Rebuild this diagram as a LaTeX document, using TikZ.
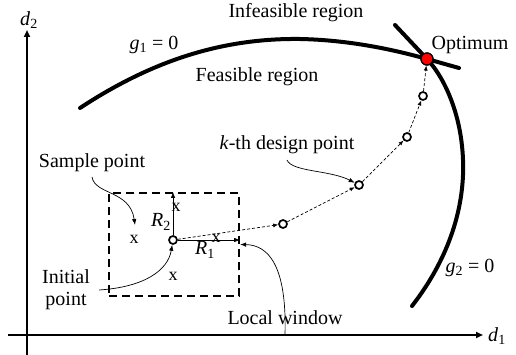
\documentclass[tikz,border=0pt]{standalone}
\usepackage{fontspec}
\setmainfont{Liberation Serif}
\usetikzlibrary{arrows.meta}

\newcommand{\symsub}[2]{\textit{#1}\textsubscript{#2}}

\begin{document}
\begin{tikzpicture}[
    x=1pt, y=-1pt,
    lbl/.style={font=\fontsize{20}{22}\selectfont, inner sep=0pt, align=center},
    smark/.style={font=\fontsize{18}{20}\selectfont, inner sep=1pt},
    axis/.style={line width=2.3pt, -{Triangle[length=7pt,width=6pt]}},
    bound/.style={line width=4pt, line cap=round},
    window/.style={draw, line width=2.2pt, dash pattern=on 8pt off 5pt, minimum width=130pt, minimum height=103pt, inner sep=0pt},
    dpoint/.style={circle, draw, line width=1.7pt, fill=white, minimum size=8pt, inner sep=0pt},
    optpt/.style={circle, draw, line width=1.2pt, fill=red, minimum size=12pt, inner sep=0pt},
    walk/.style={dash pattern=on 3pt off 2pt, line width=0.7pt, -{Latex[length=5pt,width=4pt]}},
    note/.style={line width=0.7pt, -{Latex[length=6pt,width=4.5pt]}},
    rad/.style={line width=0.8pt, -{Latex[length=6pt,width=4.5pt]}}
]
\useasboundingbox (0,0) rectangle (516,355);

% axes
\coordinate (ybot) at (27,355);
\coordinate (ytop) at (27,30);
\coordinate (xleft) at (8,335);
\coordinate (xright) at (483,335);
\draw[axis] (ybot) -- (ytop);
\draw[axis] (xleft) -- (xright);
\node[lbl] (d2) at (29,20) {\symsub{d}{2}};
\node[lbl] (d1) at (497,336) {\symsub{d}{1}};

% optimum and design points
\node[optpt] (opt) at (427,59) {};
\node[dpoint] (c0) at (173,240) {};
\node[dpoint] (c1) at (283,224) {};
\node[dpoint] (c2) at (359,185) {};
\node[dpoint] (c3) at (407,137) {};
\node[dpoint] (c4) at (423,96) {};

% constraint boundaries
\draw[bound] (80,108) .. controls (150,62) and (220,38) .. (300,39)
    .. controls (350,40) and (395,50) .. (opt.center) -- (459,68);
\draw[bound] (395,25) -- (opt.center)
    .. controls (445,78) and (465,120) .. (463,175)
    .. controls (461,225) and (440,270) .. (412,306);
\node[optpt] at (opt) {};

% local window
\node[window] (win) at (174,244.5) {};
\draw[rad] (c0) -- (c0 |- win.north);
\draw[rad] (c0) -- (c0 -| win.east);
\node[lbl] (r2) at (161,222) {\symsub{R}{2}};
\node[lbl] (r1) at (205,250) {\symsub{R}{1}};
\node[smark] (xs1) at (134,239) {x};
\node[smark] (xs2) at (176,207) {x};
\node[smark] (xs3) at (216,238) {x};
\node[smark] (xs4) at (173,276) {x};

% search path
\draw[walk] (c0) -- (c1);
\draw[walk] (c1) -- (c2);
\draw[walk] (c2) -- (c3);
\draw[walk] (c3) -- (c4);
\draw[walk] (c4) -- (opt);

% labels
\node[lbl] (infeas) at (296,13) {Infeasible region};
\node[lbl] (feas) at (257,77) {Feasible region};
\node[lbl] (g1) at (154,45) {\symsub{g}{1} = 0};
\node[lbl] (g2) at (470,268) {\symsub{g}{2} = 0};
\node[lbl] (optlbl) at (470,45) {Optimum};
\node[lbl] (kth) at (287,145) {\textit{k}-th design point};
\node[lbl] (sample) at (92,163) {Sample point};
\node[lbl] (init) at (66,290) {Initial\\point};
\node[lbl] (local) at (285,318) {Local window};

% pointers
\draw[note] ([yshift=-14pt]sample.center) .. controls (95,195) and (130,190) .. (135,225);
\draw[note] ([xshift=9pt]init.east) .. controls (145,287) and (168,270) .. (c0);
\draw[note] ([yshift=-17pt]local.center) .. controls (287,265) and (268,245) .. (win.east);
\draw[note] ([yshift=-15pt]kth.center) .. controls (292,172) and (330,170) .. (c2);
\end{tikzpicture}
\end{document}
